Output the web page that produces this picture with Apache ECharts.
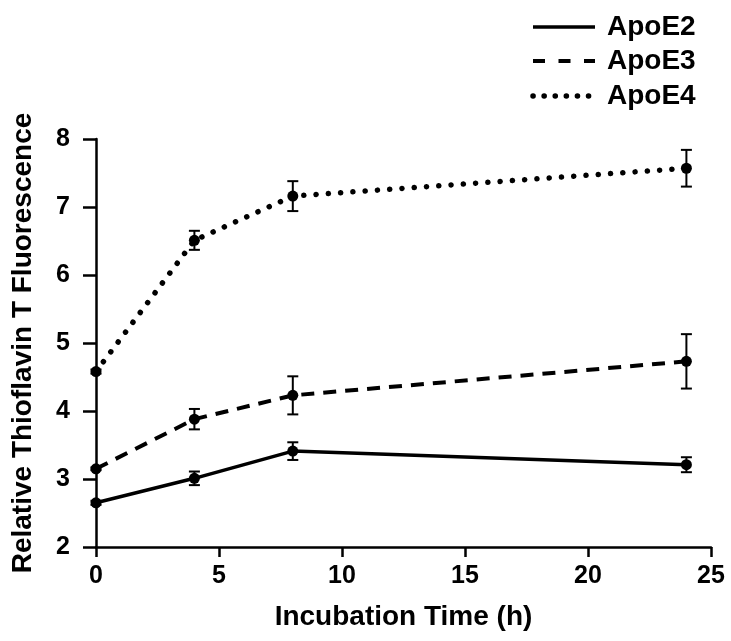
<!DOCTYPE html>
<html>
<head>
<meta charset="utf-8">
<script src="https://cdn.jsdelivr.net/npm/echarts@6/dist/echarts.min.js"></script>
<style>
  html, body { margin: 0; padding: 0; background: #fff; }
  #chart { width: 731px; height: 641px; }
</style>
</head>
<body>
<div id="chart"></div>
<script>
var hours = [0, 4, 8, 24];
var seriesNames = ["ApoE2", "ApoE3", "ApoE4"];
var apoE2 = [2.65, 3.01, 3.41, 3.21];
var apoE2Err = [0.03, 0.1, 0.13, 0.11];
var apoE3 = [3.15, 3.88, 4.23, 4.73];
var apoE3Err = [0.02, 0.15, 0.28, 0.4];
var apoE4 = [4.58, 6.51, 7.16, 7.57];
var apoE4Err = [0.03, 0.14, 0.22, 0.27];
var xTicks = [0, 5, 10, 15, 20, 25];
var yTicks = [2, 3, 4, 5, 6, 7, 8];

var font = "'Liberation Sans', Arial, Helvetica, sans-serif";
var chart = echarts.init(document.getElementById("chart"));

function pts(vals) {
  return hours.map(function (h, i) { return [h, vals[i]]; });
}
function errPts(vals, errs) {
  return hours.map(function (h, i) { return [h, vals[i] - errs[i], vals[i] + errs[i]]; });
}

// vertical error bar with caps
function renderErr(params, api) {
  var x = api.value(0);
  var lo = api.coord([x, api.value(1)]);
  var hi = api.coord([x, api.value(2)]);
  var w = 5.5;
  var st = { stroke: "#000", lineWidth: 2 };
  return {
    type: "group",
    children: [
      { type: "line", shape: { x1: lo[0], y1: lo[1], x2: hi[0], y2: hi[1] }, style: st },
      { type: "line", shape: { x1: lo[0] - w, y1: lo[1], x2: lo[0] + w, y2: lo[1] }, style: st },
      { type: "line", shape: { x1: hi[0] - w, y1: hi[1], x2: hi[0] + w, y2: hi[1] }, style: st }
    ]
  };
}

var lineStyles = [
  { color: "#000", width: 3.5, type: "solid" },
  { color: "#000", width: 4, type: [13, 9] },
  { color: "#000", width: 5.5, type: [0.1, 12.2], cap: "round" }
];
var values = [apoE2, apoE3, apoE4];
var errors = [apoE2Err, apoE3Err, apoE4Err];

var series = [];
values.forEach(function (v, i) {
  series.push({
    name: seriesNames[i],
    type: "line",
    data: pts(v),
    symbol: "circle",
    symbolSize: 11,
    itemStyle: { color: "#000" },
    lineStyle: lineStyles[i],
    clip: false,
    z: 3
  });
  series.push({
    type: "custom",
    data: errPts(v, errors[i]),
    renderItem: renderErr,
    clip: false,
    z: 4
  });
});

// legend drawn as graphic elements
var legendY = [27, 61, 96];
var legendDash = [null, [12, 13.5], [0.1, 11]];
var legendWidth = [3.5, 4, 5.5];
var legend = [];
seriesNames.forEach(function (n, i) {
  legend.push({
    type: "line",
    shape: { x1: 533, y1: legendY[i], x2: 595, y2: legendY[i] },
    style: { stroke: "#000", lineWidth: legendWidth[i], lineDash: legendDash[i], lineCap: i === 2 ? "round" : "butt" }
  });
  legend.push({
    type: "text",
    x: 607, y: legendY[i],
    style: { text: n, fill: "#000", font: "bold 28px " + font, verticalAlign: "middle", align: "left" }
  });
});

chart.setOption({
  backgroundColor: "#fff",
  animation: false,
  grid: { left: 96, right: 20, top: 139, bottom: 94, containLabel: false, outerBoundsMode: "none" },
  xAxis: {
    type: "value",
    min: xTicks[0],
    max: xTicks[xTicks.length - 1],
    interval: 5,
    name: "Incubation Time (h)",
    nameLocation: "middle",
    nameGap: 56,
    nameTextStyle: { color: "#000", fontSize: 28, fontWeight: "bold", fontFamily: font },
    axisLine: { onZero: false, lineStyle: { color: "#000", width: 2.5 } },
    axisTick: { length: 10, lineStyle: { color: "#000", width: 2.5 } },
    axisLabel: { color: "#000", fontSize: 25, fontWeight: "bold", fontFamily: font, margin: 17 },
    splitLine: { show: false }
  },
  yAxis: {
    type: "value",
    min: yTicks[0],
    max: yTicks[yTicks.length - 1],
    interval: 1,
    name: "Relative Thioflavin T Fluorescence",
    nameLocation: "middle",
    nameGap: 59,
    nameTextStyle: { color: "#000", fontSize: 28, fontWeight: "bold", fontFamily: font },
    axisLine: { show: true, onZero: false, lineStyle: { color: "#000", width: 2.5 } },
    axisTick: { show: true, length: 13, lineStyle: { color: "#000", width: 2.5 } },
    axisLabel: { color: "#000", fontSize: 25, fontWeight: "bold", fontFamily: font, margin: 26 },
    splitLine: { show: false }
  },
  graphic: legend,
  series: series
});
window.addEventListener("resize", chart.resize);
</script>
</body>
</html>
